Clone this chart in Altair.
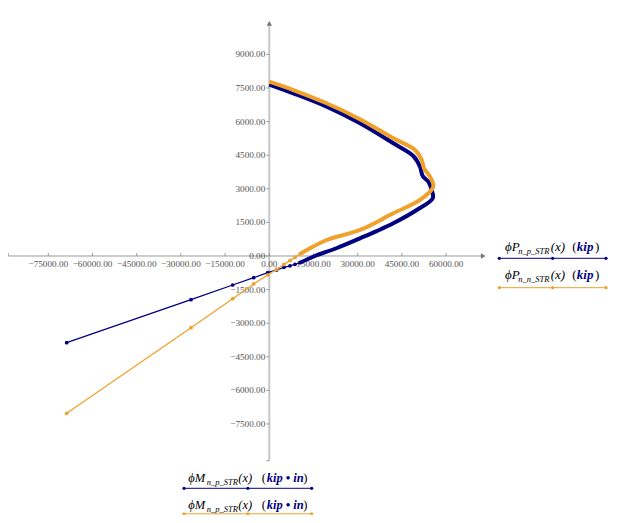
import altair as alt
import pandas as pd

# ---------------- data ----------------
# Blue trace: phi*Mn_p_STR (kip*in) vs phi*Pn_p_STR (kip)
M_p = [-68760, -26575, -12420, -5295, -543, 2512, 4990, 7026, 8723, 10420,
       15510, 22980, 30780, 36435, 42090, 50030, 55460, 55120, 53960, 52060,
       51150, 48870, 42090, 30780, 19480, 8146, 0]
P_p = [-3870, -1951, -1295, -969, -745, -625, -504, -437, -370, -299,
       0, 357, 790, 1110, 1460, 2053, 2576, 2946, 3317, 3571,
       3986, 4464, 5031, 5924, 6665, 7263, 7656]
BLUE_SPARSE = 10   # first points drawn as separate markers

# Orange trace: phi*Mn_p_STR (kip*in) vs phi*Pn_n_STR (kip)
M_n = [-68760, -26575, -12420, -5295, -543, 2512, 4990, 7026, 8723, 10420,
       13810, 19480, 30780, 42090, 51150, 55660, 54540, 52510, 51720, 49450,
       42090, 30780, 19480, 8146, 0]
P_n = [-7022, -3200, -1906, -1250, -848, -589, -379, -205, -58, 89,
       344, 714, 1161, 1906, 2500, 3094, 3540, 3915, 4285, 4732,
       5254, 6102, 6817, 7410, 7781]
ORANGE_SPARSE = 10

x_ticks = [-75000, -60000, -45000, -30000, -15000, 0, 15000, 30000, 45000, 60000]
x_tick_labels = ["\u221275000.00", "\u221260000.00", "\u221245000.00", "\u221230000.00",
                 "\u221215000.00", "0.00", "15000.00", "30000.00", "45000.00", "60000.00"]
y_ticks = [9000, 7500, 6000, 4500, 3000, 1500, 0, -1500, -3000, -4500, -6000, -7500]
y_tick_labels = ["9000.00", "7500.00", "6000.00", "4500.00", "3000.00", "1500.00", "0.00",
                 "\u22121500.00", "\u22123000.00", "\u22124500.00", "\u22126000.00", "\u22127500.00"]

# axis extents
X_LEFT, X_RIGHT = -88600, 72000
Y_BOTTOM, Y_TOP = -9140, 10300

# ---------------- layout ----------------
W, H = 603, 507
XMIN, XMAX = -88678, -88678 + W * 339.37
YMAX = 11071
YMIN = YMAX - H * 44.643

BLUE = "#000080"
ORANGE = "#F0A12B"
AXIS_GRAY = "#9a9a9a"
LABEL_GRAY = "#555555"
SERIF = "Liberation Serif"

xs = alt.Scale(domain=[XMIN, XMAX], nice=False, zero=False)
ys = alt.Scale(domain=[YMIN, YMAX], nice=False, zero=False)


def X(field):
    return alt.X(field, type="quantitative", scale=xs, axis=None)


def Y(field):
    return alt.Y(field, type="quantitative", scale=ys, axis=None)


blue = pd.DataFrame({"M": M_p, "P": P_p, "i": range(len(M_p))})
orange = pd.DataFrame({"M": M_n, "P": P_n, "i": range(len(M_n))})

layers = []

# axes
layers.append(alt.Chart(pd.DataFrame({"x": [0], "y": [Y_BOTTOM], "y2": [Y_TOP]}))
              .mark_rule(color="#c6c6c6", strokeWidth=2)
              .encode(x=X("x"), y=Y("y"), y2="y2"))
layers.append(alt.Chart(pd.DataFrame({"y": [0], "x": [X_LEFT], "x2": [X_RIGHT]}))
              .mark_rule(color=AXIS_GRAY, strokeWidth=1)
              .encode(x=X("x"), x2="x2", y=Y("y")))
layers.append(alt.Chart(pd.DataFrame({"x": [X_RIGHT + 600], "y": [0]}))
              .mark_point(shape="triangle-right", filled=True, size=30, color="#777777", opacity=1)
              .encode(x=X("x"), y=Y("y")))
layers.append(alt.Chart(pd.DataFrame({"x": [0], "y": [Y_TOP + 80]}))
              .mark_point(shape="triangle-up", filled=True, size=30, color="#777777", opacity=1)
              .encode(x=X("x"), y=Y("y")))

# ticks
xt = pd.DataFrame({"x": x_ticks + [X_LEFT], "y": 0, "y2": 130})
layers.append(alt.Chart(xt).mark_rule(color=AXIS_GRAY, strokeWidth=1)
              .encode(x=X("x"), y=Y("y"), y2="y2"))
yt = pd.DataFrame({"y": y_ticks + [Y_BOTTOM], "x": 0, "x2": -1000})
layers.append(alt.Chart(yt).mark_rule(color=AXIS_GRAY, strokeWidth=1)
              .encode(x=X("x"), x2="x2", y=Y("y")))

# tick labels
xl = pd.DataFrame({"x": x_ticks, "y": 0, "t": x_tick_labels})
layers.append(alt.Chart(xl).mark_text(font=SERIF, fontSize=9.2, color=LABEL_GRAY,
                                      baseline="middle", align="center", dy=8)
              .encode(x=X("x"), y=Y("y"), text="t"))
yl = pd.DataFrame({"y": y_ticks, "x": 0, "t": y_tick_labels})
layers.append(alt.Chart(yl).mark_text(font=SERIF, fontSize=9.2, color=LABEL_GRAY,
                                      baseline="middle", align="right", dx=-4)
              .encode(x=X("x"), y=Y("y"), text="t"))


def trace(df, n_sparse, color):
    thin = (alt.Chart(df[df["i"] < n_sparse]).mark_line(color=color, strokeWidth=1.3)
            .encode(x=X("M"), y=Y("P"), order="i:Q"))
    thick = (alt.Chart(df[df["i"] >= n_sparse - 1])
             .mark_line(color=color, strokeWidth=4, strokeJoin="round",
                        interpolate="catmull-rom")
             .encode(x=X("M"), y=Y("P"), order="i:Q"))
    dots = (alt.Chart(df[df["i"] < n_sparse]).mark_point(filled=True, size=14, color=color,
                                                       opacity=1)
            .encode(x=X("M"), y=Y("P")))
    return [thin, thick, dots]


layers += trace(blue, BLUE_SPARSE, BLUE)
layers += trace(orange, ORANGE_SPARSE, ORANGE)


# ---------------- legends (Mathcad-style trace labels) ----------------
def txt(t, x, y, size=12.5, style="italic", weight="normal", color="#000000"):
    return (alt.Chart(pd.DataFrame({"t": [t]}))
            .mark_text(font=SERIF, fontSize=size, fontStyle=style, fontWeight=weight,
                       color=color, align="left", baseline="alphabetic")
            .encode(x=alt.value(x), y=alt.value(y), text="t:N"))


def sample(x0, x1, y, color):
    d = pd.DataFrame({"px": [x0, (x0 + x1) / 2, x1], "py": [y, y, y]})
    base = alt.Chart(d).encode(x=alt.X("px:Q", scale=None), y=alt.Y("py:Q", scale=None))
    return [base.mark_line(color=color, strokeWidth=1),
            base.mark_point(filled=True, size=10, color=color, opacity=1)]


def label(sym, sub, unit, x, base, pos, size=12.5):
    x_sub, x_arg, x_open, x_unit, x_close = pos
    return [txt(sym, x, base, size=size),
            txt(sub, x_sub, base + 3, size=8.5),
            txt("(x)", x_arg, base, size=size),
            txt("(", x_open, base, style="normal", size=size),
            txt(unit, x_unit, base, weight="bold", color=BLUE, size=size),
            txt(")", x_close, base, style="normal", size=size)]


# right legend (P axis)
RP = (510.3, 542.7, 564.3, 568.8, 587.0)
layers += label("\u03d5P", "n_p_STR", "kip", 497, 242.5, RP, size=13)
layers += sample(491.3, 598, 250.3, BLUE)
layers += label("\u03d5P", "n_n_STR", "kip", 497, 271, RP, size=13)
layers += sample(491.3, 598, 279.7, ORANGE)

# bottom legend (M axis)
BP = (198.7, 230.3, 253.7, 258.7, 295.3)
layers += label("\u03d5M", "n_p_STR", "kip \u2022 in", 180.3, 473.5, BP)
layers += sample(176, 303.7, 480.3, BLUE)
layers += label("\u03d5M", "n_p_STR", "kip \u2022 in", 180.3, 500.5, BP)
layers += sample(176, 303.7, 505.8, ORANGE)

chart = (alt.layer(*layers)
         .properties(width=W, height=H, autosize=alt.AutoSizeParams(type="none"), padding=0)
         .configure_view(stroke=None))

chart.save("out.html", embed_options={"renderer": "svg", "actions": False})
